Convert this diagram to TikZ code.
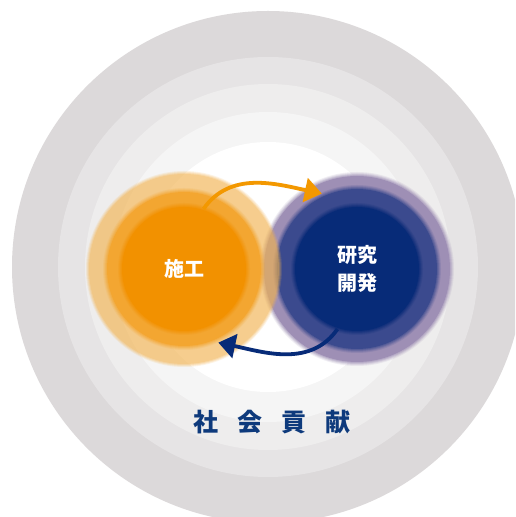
\documentclass[tikz,border=0pt]{standalone}
\usepackage{fontspec}
\newfontfamily\cjk{Noto Sans CJK JP}
\usetikzlibrary{arrows.meta}
\definecolor{ringA}{HTML}{DCD9DA}
\definecolor{ringB}{HTML}{E6E4E5}
\definecolor{ringC}{HTML}{EEEDED}
\definecolor{ringD}{HTML}{F5F5F5}
\definecolor{shikoout}{HTML}{F3B451}
\definecolor{shikomid}{HTML}{F3A631}
\definecolor{shikoin}{HTML}{F29100}
\definecolor{kenkyuout}{HTML}{9E8FB5}
\definecolor{kenkyumid}{HTML}{3B4A8E}
\definecolor{kenkyuin}{HTML}{072B78}
\definecolor{navy}{HTML}{0E3A7C}
\definecolor{arroworange}{HTML}{F39800}

\begin{document}
\begin{tikzpicture}[
	x = 1pt, y = 1pt,
	core/.style = {circle, inner sep = 0pt, text = white, align = center,
		font = \cjk\bfseries\fontsize{20}{28}\selectfont},
	cycle/.style = {line width = 3.8pt, -{Triangle[length=17pt, width=24pt]}},
	]
	\clip (0,0) rectangle (515,517);
	\fill[white] (0,0) rectangle (515,517);
	% society rings
	\fill[ringA] (268,250) circle[radius=256pt];
	\fill[ringB] (268,250) circle[radius=210pt];
	\fill[ringC] (268,250) circle[radius=183pt];
	\fill[ringD] (268,250) circle[radius=155pt];
	\fill[white] (268,250) circle[radius=125pt];
	% research circle
	\foreach \r/\col in {94/kenkyuout, 81/kenkyumid, 63/kenkyuin}{
		\foreach \d/\o in {3/.15, 2/.2, 1/.3, 0/.4}
		\fill[\col, opacity=\o] (357,248) circle[radius=\r pt+\d pt];
		\fill[\col] (357,248) circle[radius=\r pt-1pt];
	}
	% construction circle
	\foreach \r/\o in {98/.15, 97/.2, 96/.25, 95/.3}
	\fill[shikoout, opacity=\o] (184,248) circle[radius=\r pt];
	\foreach \r/\col in {78/shikomid, 63/shikoin}{
		\foreach \d/\o in {3/.15, 2/.2, 1/.3, 0/.4}
		\fill[\col, opacity=\o] (184,248) circle[radius=\r pt+\d pt];
		\fill[\col] (184,248) circle[radius=\r pt-1pt];
	}
	\node[core, minimum size = 126pt] (shiko) at (184,248) {施工};
	\node[circle, inner sep = 0pt, minimum size = 162pt] (shikoring) at (184,248) {};
	\node[core, minimum size = 126pt] (kenkyu) at (357,248) {研究\\開発};
	\node[circle, inner sep = 0pt, minimum size = 166pt] (kenkyuring) at (357,248) {};
	\node[text = navy, font = \cjk\bfseries\fontsize{25}{30}\selectfont] (kouken) at (272,95)
	{社\hspace{19pt}会\hspace{19pt}貢\hspace{19pt}献};
	% cycle
	\draw[cycle, arroworange] (shiko.72) to[out=55, in=168] (kenkyuring.115);
	\draw[cycle, kenkyuin] (kenkyu.252) to[out=235, in=348] (shikoring.295);
\end{tikzpicture}
\end{document}
